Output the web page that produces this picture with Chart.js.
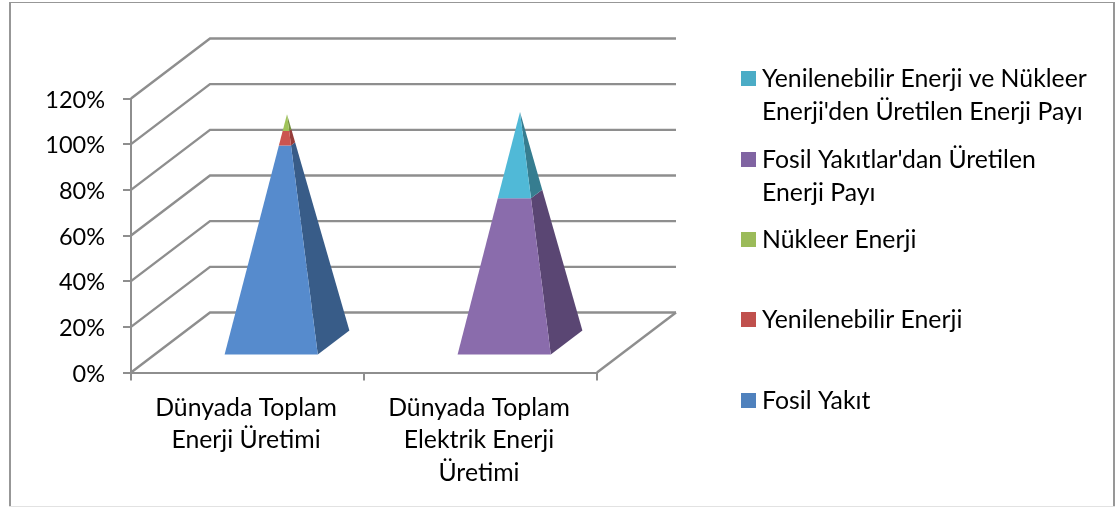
<!DOCTYPE html>
<html>
<head>
<meta charset="utf-8">
<style>
  html, body { margin: 0; padding: 0; background: #fff; }
  canvas { display: block; }
</style>
<script src="https://cdn.jsdelivr.net/npm/chart.js@4"></script>
</head>
<body>
<canvas id="chart" width="1117" height="508"></canvas>
<script>
const categories = [
  ['Dünyada Toplam', 'Enerji Üretimi'],
  ['Dünyada Toplam', 'Elektrik Enerji', 'Üretimi'],
];

// yüzde değerleri
const fosilYakit = [87, 0];
const yenilenebilir = [6, 0];
const nukleer = [7, 0];
const fosilElektrik = [0, 65];
const yenilenebilirNukleerElektrik = [0, 36];

const legendNames = [
  ['Yenilenebilir Enerji ve Nükleer', "Enerji'den Üretilen Enerji Payı"],
  ["Fosil Yakıtlar'dan Üretilen", 'Enerji Payı'],
  ['Nükleer Enerji'],
  ['Yenilenebilir Enerji'],
  ['Fosil Yakıt'],
];
const legendColors = ['#4bacc6', '#8064a2', '#9bbb59', '#c0504d', '#4f81bd'];
const legendTops = [71, 152, 232, 312, 393];

const fontFamily = 'Lato, sans-serif';
const fontSize = 24.8;
const tickFontSize = 23.5;
const gridColor = '#8e8e8e';
const depthX = 79;
const depthY = 60;

function lerp(a, b, t) {
  return { x: a.x + (b.x - a.x) * t, y: a.y + (b.y - a.y) * t };
}

function fillQuad(ctx, pts, color) {
  ctx.fillStyle = color;
  ctx.beginPath();
  pts.forEach((p, i) => (i ? ctx.lineTo(p.x, p.y) : ctx.moveTo(p.x, p.y)));
  ctx.closePath();
  ctx.fill();
}

// çerçeve ve arka duvar çizgileri
const wallsPlugin = {
  id: 'walls',
  beforeDraw(chart) {
    const { ctx, width, height } = chart;
    ctx.save();
    ctx.fillStyle = '#fff';
    ctx.fillRect(0, 0, width, height);
    ctx.fillStyle = '#979797';
    ctx.fillRect(9, 2, 2, height - 4);
    ctx.fillRect(9, 2, width - 11, 1);
    ctx.fillRect(width - 4, 2, 2, height - 4);
    ctx.fillStyle = '#e2e2e2';
    ctx.fillRect(9, height - 2, width - 11, 1);
    ctx.restore();
  },
  beforeDatasetsDraw(chart) {
    const { ctx, chartArea, scales } = chart;
    const { left, right, bottom } = chartArea;
    ctx.save();
    ctx.strokeStyle = gridColor;
    ctx.lineWidth = 2.4;
    scales.y.ticks.forEach((tick) => {
      const py = scales.y.getPixelForValue(tick.value);
      ctx.beginPath();
      ctx.moveTo(left, py);
      ctx.lineTo(left + depthX, py - depthY);
      ctx.lineTo(right + depthX, py - depthY);
      ctx.stroke();
    });
    // zeminin sağ kenarı
    ctx.beginPath();
    ctx.moveTo(right, bottom);
    ctx.lineTo(right + depthX, bottom - depthY);
    ctx.stroke();
    ctx.restore();
  },
};

// barlar görünmez, piramitler onların ölçülerinden çiziliyor
const pyramidPlugin = {
  id: 'pyramids',
  afterDatasetsDraw(chart) {
    const { ctx, scales } = chart;
    const metas = chart.getSortedVisibleDatasetMetas();
    categories.forEach((cat, index) => {
      const total = chart.data.datasets.reduce((sum, ds) => sum + ds.data[index], 0);
      const bar = metas[0].data[index];
      const halfW = bar.width / 2;
      const cx = bar.x + depthX / 2;
      const cy = scales.y.getPixelForValue(0) - depthY / 2;
      const apex = { x: cx, y: scales.y.getPixelForValue(total) - depthY / 2 };
      const frontLeft = { x: cx - halfW - depthX * 0.2, y: cy + depthY * 0.2 };
      const frontRight = { x: cx + halfW - depthX * 0.2, y: cy + depthY * 0.2 };
      const backRight = { x: cx + halfW + depthX * 0.2, y: cy - depthY * 0.2 };

      let done = 0;
      chart.data.datasets.forEach((ds) => {
        const value = ds.data[index];
        if (!value) return;
        const f0 = done / total;
        const f1 = (done + value) / total;
        done += value;
        fillQuad(ctx, [
          lerp(frontRight, apex, f0), lerp(backRight, apex, f0),
          lerp(backRight, apex, f1), lerp(frontRight, apex, f1),
        ], ds.sideColor);
        fillQuad(ctx, [
          lerp(frontLeft, apex, f0), lerp(frontRight, apex, f0),
          lerp(frontRight, apex, f1), lerp(frontLeft, apex, f1),
        ], ds.frontColor);
      });
    });
  },
};

const legendPlugin = {
  id: 'sideLegend',
  afterDraw(chart) {
    const { ctx } = chart;
    ctx.save();
    ctx.font = `${fontSize}px ${fontFamily}`;
    ctx.textBaseline = 'middle';
    legendNames.forEach((lines, i) => {
      ctx.fillStyle = legendColors[i];
      ctx.fillRect(741, legendTops[i], 15, 15);
      ctx.fillStyle = '#000';
      lines.forEach((line, n) => {
        ctx.fillText(line, 762, legendTops[i] + 8.5 + n * 32.5);
      });
    });
    ctx.restore();
  },
};

const ctx = document.getElementById('chart').getContext('2d');

new Chart(ctx, {
  type: 'bar',
  data: {
    labels: categories,
    datasets: [
      { label: 'Fosil Yakıt', data: fosilYakit, frontColor: '#568bcd', sideColor: '#385c88' },
      { label: 'Yenilenebilir Enerji', data: yenilenebilir, frontColor: '#cb5450', sideColor: '#963c3a' },
      { label: 'Nükleer Enerji', data: nukleer, frontColor: '#a0c459', sideColor: '#748f3e' },
      { label: "Fosil Yakıtlar'dan Üretilen Enerji Payı", data: fosilElektrik, frontColor: '#8a6cac', sideColor: '#5a4673' },
      { label: "Yenilenebilir Enerji ve Nükleer Enerji'den Üretilen Enerji Payı", data: yenilenebilirNukleerElektrik, frontColor: '#50b9d7', sideColor: '#367d90' },
    ],
  },
  options: {
    responsive: false,
    animation: false,
    backgroundColor: 'transparent',
    borderColor: 'transparent',
    layout: { padding: { top: 98.5, right: 520, left: 0, bottom: 0 } },
    datasets: { bar: { barPercentage: 0.4, categoryPercentage: 1 } },
    plugins: {
      colors: { enabled: false },
      legend: { display: false },
      title: { display: false },
      tooltip: { enabled: false },
    },
    scales: {
      x: {
        stacked: true,
        afterFit(scale) { scale.height = 135.5; },
        border: { color: gridColor, width: 2 },
        grid: { offset: true, drawOnChartArea: false, color: gridColor, lineWidth: 2, tickLength: 8, tickWidth: 2 },
        ticks: {
          color: '#000',
          padding: 11,
          labelOffset: -1.5,
          maxRotation: 0,
          font: { family: fontFamily, size: fontSize, lineHeight: 32.5 / fontSize },
        },
      },
      y: {
        stacked: true,
        min: 0,
        max: 120,
        afterFit(scale) { scale.width = 131; },
        border: { color: gridColor, width: 2 },
        grid: { drawOnChartArea: false, color: gridColor, lineWidth: 2, tickLength: 8, tickWidth: 2 },
        ticks: {
          stepSize: 20,
          color: '#000',
          padding: 18,
          labelOffset: 1.5,
          font: { family: fontFamily, size: tickFontSize },
          callback: (v) => v + '%',
        },
      },
    },
  },
  plugins: [wallsPlugin, pyramidPlugin, legendPlugin],
});
</script>
</body>
</html>
